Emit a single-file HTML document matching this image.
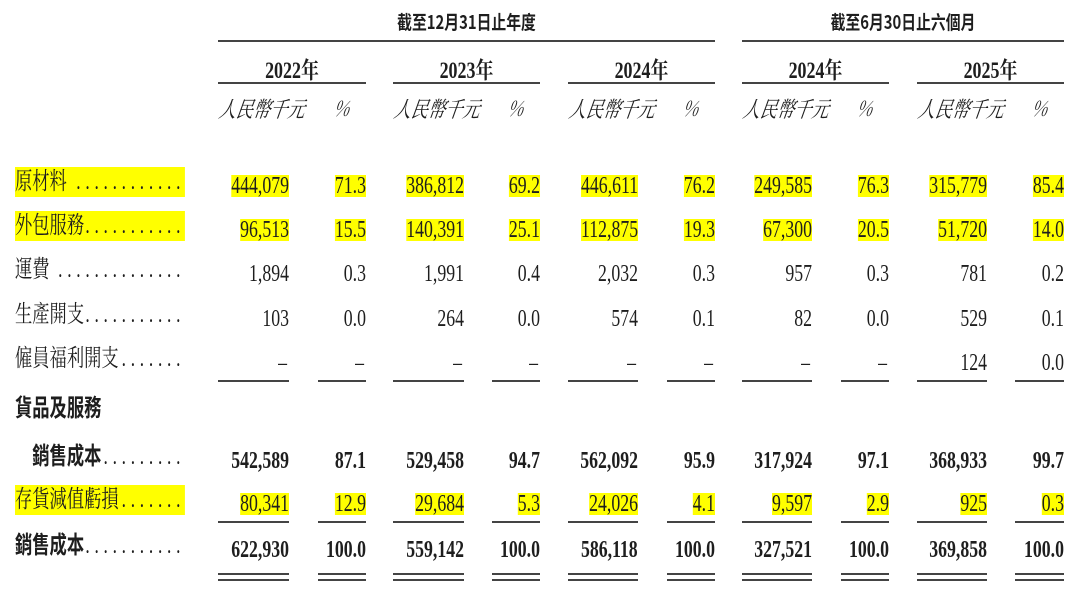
<!DOCTYPE html>
<html><head><meta charset="utf-8"><style>
body{margin:0;width:1080px;height:597px;background:#fff;position:relative;overflow:hidden;font-family:"Liberation Serif","Noto Serif CJK SC","Noto Sans CJK TC",serif;color:#1e1e1e}
.n{position:absolute;height:22px;line-height:22px;font-size:24px;white-space:nowrap;transform:scaleX(.74);transform-origin:right center}
.h{background:#ffff00}
.b{font-weight:bold}
.c{position:absolute;white-space:nowrap;transform:scaleX(.78);transform-origin:center;text-align:center}
.i{font-style:italic;font-size:21px;font-family:"Noto Serif CJK SC","Liberation Serif",serif;transform:scaleX(.78) skewX(-12deg)}
.l{position:absolute;height:2px;background:#444}
.lab{position:absolute;left:15px;width:236px;height:30px;line-height:30px;font-size:24px;display:flex;transform:scaleX(.72);transform-origin:left center;font-family:"Liberation Serif","Noto Serif CJK SC",serif}
.lab.b{font-family:"Liberation Serif","Noto Sans CJK TC",sans-serif}
.lab .d{flex:1;overflow:hidden;white-space:nowrap;direction:rtl;letter-spacing:6.6px;font-family:"Liberation Serif",serif;font-weight:normal}
</style></head><body>
<div class="c b" style="left:218px;width:497px;top:8px;font-size:19px;font-family:'Noto Sans CJK TC',sans-serif">截至12月31日止年度</div>
<div class="c b" style="left:742px;width:322px;top:8px;font-size:19px;font-family:'Noto Sans CJK TC',sans-serif">截至6月30日止六個月</div>
<div class="l" style="left:218px;width:497px;top:40px"></div>
<div class="l" style="left:742px;width:322px;top:40px"></div>
<div class="c b" style="left:218px;width:148px;top:52px;font-size:23px">2022年</div>
<div class="c b" style="left:393px;width:147px;top:52px;font-size:23px">2023年</div>
<div class="c b" style="left:568px;width:147px;top:52px;font-size:23px">2024年</div>
<div class="c b" style="left:742px;width:147px;top:52px;font-size:23px">2024年</div>
<div class="c b" style="left:917px;width:147px;top:52px;font-size:23px">2025年</div>
<div class="l" style="left:218px;width:148px;top:82px"></div>
<div class="l" style="left:393px;width:147px;top:82px"></div>
<div class="l" style="left:568px;width:147px;top:82px"></div>
<div class="l" style="left:742px;width:147px;top:82px"></div>
<div class="l" style="left:917px;width:147px;top:82px"></div>

<div class="c i" style="left:210px;width:86px;top:93px;font-size:22px">人民幣千元</div><div class="c i" style="left:330px;width:24px;top:93px">%</div>
<div class="c i" style="left:385px;width:86px;top:93px;font-size:22px">人民幣千元</div><div class="c i" style="left:504px;width:24px;top:93px">%</div>
<div class="c i" style="left:560px;width:86px;top:93px;font-size:22px">人民幣千元</div><div class="c i" style="left:679px;width:24px;top:93px">%</div>
<div class="c i" style="left:734px;width:86px;top:93px;font-size:22px">人民幣千元</div><div class="c i" style="left:853px;width:24px;top:93px">%</div>
<div class="c i" style="left:909px;width:86px;top:93px;font-size:22px">人民幣千元</div><div class="c i" style="left:1028px;width:24px;top:93px">%</div>

<div class="lab h" style="top:167px"><span>原材料&nbsp;</span><span class="d">..............................</span></div>
<div class="lab h" style="top:211px"><span>外包服務</span><span class="d">..............................</span></div>
<div class="lab" style="top:255px"><span>運費&nbsp;</span><span class="d">..............................</span></div>
<div class="lab" style="top:300px"><span>生產開支</span><span class="d">..............................</span></div>
<div class="lab" style="top:344px"><span>僱員福利開支</span><span class="d">..............................</span></div>
<div class="lab b" style="top:394px"><span>貨品及服務</span></div>
<div class="lab b" style="top:442px"><span>&nbsp;&nbsp;&nbsp;&nbsp;銷售成本</span><span class="d">..............................</span></div>
<div class="lab h" style="top:485px"><span>存貨減值虧損</span><span class="d">..............................</span></div>
<div class="lab b" style="top:531px"><span>銷售成本</span><span class="d">..............................</span></div>

<div class="n h" style="top:175px;right:791px">444,079</div><div class="n h" style="top:175px;right:714px">71.3</div>
<div class="n h" style="top:175px;right:616px">386,812</div><div class="n h" style="top:175px;right:540px">69.2</div>
<div class="n h" style="top:175px;right:442px">446,611</div><div class="n h" style="top:175px;right:365px">76.2</div>
<div class="n h" style="top:175px;right:268px">249,585</div><div class="n h" style="top:175px;right:191px">76.3</div>
<div class="n h" style="top:175px;right:93px">315,779</div><div class="n h" style="top:175px;right:16px">85.4</div>
<div class="n h" style="top:219px;right:791px">96,513</div><div class="n h" style="top:219px;right:714px">15.5</div>
<div class="n h" style="top:219px;right:616px">140,391</div><div class="n h" style="top:219px;right:540px">25.1</div>
<div class="n h" style="top:219px;right:442px">112,875</div><div class="n h" style="top:219px;right:365px">19.3</div>
<div class="n h" style="top:219px;right:268px">67,300</div><div class="n h" style="top:219px;right:191px">20.5</div>
<div class="n h" style="top:219px;right:93px">51,720</div><div class="n h" style="top:219px;right:16px">14.0</div>
<div class="n" style="top:263px;right:791px">1,894</div><div class="n" style="top:263px;right:714px">0.3</div>
<div class="n" style="top:263px;right:616px">1,991</div><div class="n" style="top:263px;right:540px">0.4</div>
<div class="n" style="top:263px;right:442px">2,032</div><div class="n" style="top:263px;right:365px">0.3</div>
<div class="n" style="top:263px;right:268px">957</div><div class="n" style="top:263px;right:191px">0.3</div>
<div class="n" style="top:263px;right:93px">781</div><div class="n" style="top:263px;right:16px">0.2</div>
<div class="n" style="top:308px;right:791px">103</div><div class="n" style="top:308px;right:714px">0.0</div>
<div class="n" style="top:308px;right:616px">264</div><div class="n" style="top:308px;right:540px">0.0</div>
<div class="n" style="top:308px;right:442px">574</div><div class="n" style="top:308px;right:365px">0.1</div>
<div class="n" style="top:308px;right:268px">82</div><div class="n" style="top:308px;right:191px">0.0</div>
<div class="n" style="top:308px;right:93px">529</div><div class="n" style="top:308px;right:16px">0.1</div>
<div class="n" style="top:352px;right:793px">–</div><div class="n" style="top:352px;right:716px">–</div>
<div class="n" style="top:352px;right:618px">–</div><div class="n" style="top:352px;right:542px">–</div>
<div class="n" style="top:352px;right:444px">–</div><div class="n" style="top:352px;right:367px">–</div>
<div class="n" style="top:352px;right:270px">–</div><div class="n" style="top:352px;right:193px">–</div>
<div class="n" style="top:352px;right:93px">124</div><div class="n" style="top:352px;right:16px">0.0</div>
<div class="l" style="left:218px;width:71px;top:380px"></div><div class="l" style="left:318px;width:48px;top:380px"></div>
<div class="l" style="left:393px;width:71px;top:380px"></div><div class="l" style="left:492px;width:48px;top:380px"></div>
<div class="l" style="left:568px;width:70px;top:380px"></div><div class="l" style="left:667px;width:48px;top:380px"></div>
<div class="l" style="left:742px;width:70px;top:380px"></div><div class="l" style="left:841px;width:48px;top:380px"></div>
<div class="l" style="left:917px;width:70px;top:380px"></div><div class="l" style="left:1015px;width:49px;top:380px"></div>
<div class="n b" style="top:450px;right:791px">542,589</div><div class="n b" style="top:450px;right:714px">87.1</div>
<div class="n b" style="top:450px;right:616px">529,458</div><div class="n b" style="top:450px;right:540px">94.7</div>
<div class="n b" style="top:450px;right:442px">562,092</div><div class="n b" style="top:450px;right:365px">95.9</div>
<div class="n b" style="top:450px;right:268px">317,924</div><div class="n b" style="top:450px;right:191px">97.1</div>
<div class="n b" style="top:450px;right:93px">368,933</div><div class="n b" style="top:450px;right:16px">99.7</div>
<div class="n h" style="top:493px;right:791px">80,341</div><div class="n h" style="top:493px;right:714px">12.9</div>
<div class="n h" style="top:493px;right:616px">29,684</div><div class="n h" style="top:493px;right:540px">5.3</div>
<div class="n h" style="top:493px;right:442px">24,026</div><div class="n h" style="top:493px;right:365px">4.1</div>
<div class="n h" style="top:493px;right:268px">9,597</div><div class="n h" style="top:493px;right:191px">2.9</div>
<div class="n h" style="top:493px;right:93px">925</div><div class="n h" style="top:493px;right:16px">0.3</div>
<div class="l" style="left:218px;width:71px;top:521px"></div><div class="l" style="left:318px;width:48px;top:521px"></div>
<div class="l" style="left:393px;width:71px;top:521px"></div><div class="l" style="left:492px;width:48px;top:521px"></div>
<div class="l" style="left:568px;width:70px;top:521px"></div><div class="l" style="left:667px;width:48px;top:521px"></div>
<div class="l" style="left:742px;width:70px;top:521px"></div><div class="l" style="left:841px;width:48px;top:521px"></div>
<div class="l" style="left:917px;width:70px;top:521px"></div><div class="l" style="left:1015px;width:49px;top:521px"></div>
<div class="n b" style="top:539px;right:791px">622,930</div><div class="n b" style="top:539px;right:714px">100.0</div>
<div class="n b" style="top:539px;right:616px">559,142</div><div class="n b" style="top:539px;right:540px">100.0</div>
<div class="n b" style="top:539px;right:442px">586,118</div><div class="n b" style="top:539px;right:365px">100.0</div>
<div class="n b" style="top:539px;right:268px">327,521</div><div class="n b" style="top:539px;right:191px">100.0</div>
<div class="n b" style="top:539px;right:93px">369,858</div><div class="n b" style="top:539px;right:16px">100.0</div>
<div class="l" style="left:218px;width:71px;top:573px"></div><div class="l" style="left:318px;width:48px;top:573px"></div>
<div class="l" style="left:393px;width:71px;top:573px"></div><div class="l" style="left:492px;width:48px;top:573px"></div>
<div class="l" style="left:568px;width:70px;top:573px"></div><div class="l" style="left:667px;width:48px;top:573px"></div>
<div class="l" style="left:742px;width:70px;top:573px"></div><div class="l" style="left:841px;width:48px;top:573px"></div>
<div class="l" style="left:917px;width:70px;top:573px"></div><div class="l" style="left:1015px;width:49px;top:573px"></div>
<div class="l" style="left:218px;width:71px;top:579px"></div><div class="l" style="left:318px;width:48px;top:579px"></div>
<div class="l" style="left:393px;width:71px;top:579px"></div><div class="l" style="left:492px;width:48px;top:579px"></div>
<div class="l" style="left:568px;width:70px;top:579px"></div><div class="l" style="left:667px;width:48px;top:579px"></div>
<div class="l" style="left:742px;width:70px;top:579px"></div><div class="l" style="left:841px;width:48px;top:579px"></div>
<div class="l" style="left:917px;width:70px;top:579px"></div><div class="l" style="left:1015px;width:49px;top:579px"></div>
</body></html>
